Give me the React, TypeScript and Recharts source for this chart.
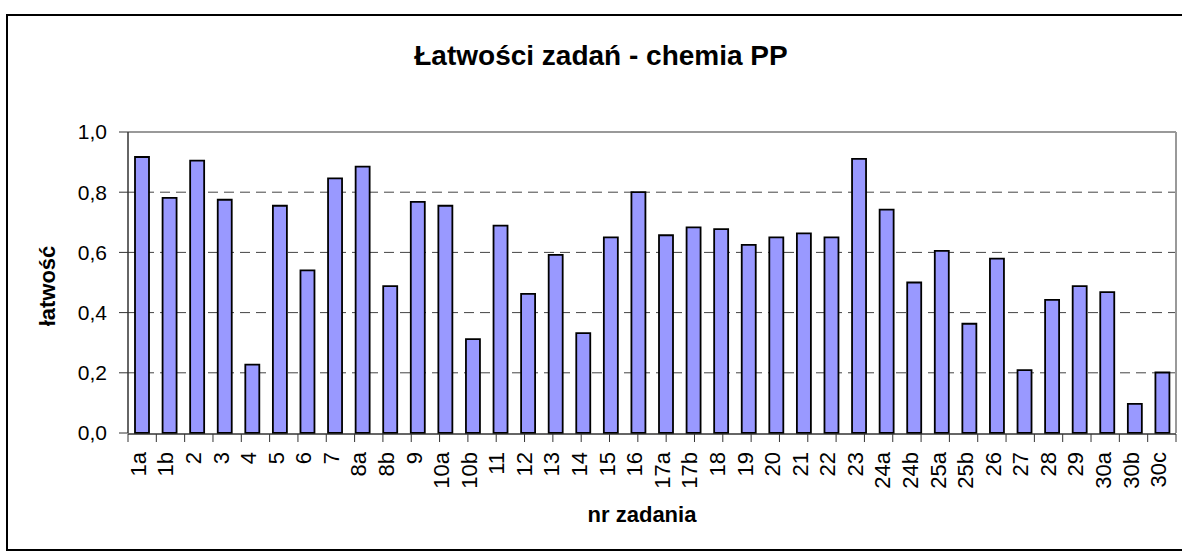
import React from "react";
import { BarChart, Bar, XAxis, YAxis, CartesianGrid, ReferenceLine } from "recharts";

const zadania = [
  "1a", "1b", "2", "3", "4", "5", "6", "7", "8a", "8b",
  "9", "10a", "10b", "11", "12", "13", "14", "15", "16", "17a",
  "17b", "18", "19", "20", "21", "22", "23", "24a", "24b", "25a",
  "25b", "26", "27", "28", "29", "30a", "30b", "30c",
];

const latwosc = [
  0.917, 0.781, 0.905, 0.775, 0.227, 0.755, 0.54, 0.846, 0.885, 0.488,
  0.768, 0.755, 0.312, 0.689, 0.462, 0.592, 0.332, 0.65, 0.8, 0.657,
  0.683, 0.677, 0.625, 0.65, 0.663, 0.65, 0.911, 0.742, 0.5, 0.605,
  0.363, 0.579, 0.209, 0.442, 0.488, 0.468, 0.097, 0.201,
];

const yTicks = [0, 0.2, 0.4, 0.6, 0.8, 1.0];

const data = zadania.map((z, i) => ({ zadanie: z, latwosc: latwosc[i] }));
// tick marks sit between categories, like in Excel
const edgeTicks = zadania.map((_, i) => i).concat(zadania.length);

const FONT = "'Liberation Sans', Arial, sans-serif";

const RotTick = (props: any) => {
  const { x, y, payload } = props;
  return (
    <text
      transform={`translate(${x + 4},${y + 19}) rotate(-90)`}
      textAnchor="end"
      fontSize={22}
      fontFamily={FONT}
      fill="#000"
    >
      {payload.value}
    </text>
  );
};

const NoLabel = () => <g />;

export default function App() {
  return (
    <div style={{ position: "absolute", left: 0, top: 0, width: 1182, height: 552, overflow: "hidden", background: "#fff", fontFamily: FONT }}>
      <div style={{ position: "absolute", left: 6, top: 14, width: 1230, height: 537, border: "2px solid #000", boxSizing: "border-box" }} />
      <div style={{ position: "absolute", left: 0, top: 42, width: 1202, textAlign: "center", fontSize: 28, lineHeight: "28px", fontWeight: "bold", color: "#000" }}>
        Łatwości zadań - chemia PP
      </div>
      <div
        style={{
          position: "absolute", left: 47.5, top: 286, transform: "translate(-50%, -50%) rotate(-90deg)",
          fontSize: 22, lineHeight: "22px", fontWeight: "bold", whiteSpace: "nowrap", color: "#000",
        }}
      >
        łatwość
      </div>
      <div style={{ position: "absolute", left: 442, top: 504, width: 400, textAlign: "center", fontSize: 22, lineHeight: "22px", fontWeight: "bold", color: "#000" }}>
        nr zadania
      </div>
      <div style={{ position: "absolute", left: 0, top: 0 }}>
        <BarChart width={1182} height={552} data={data} margin={{ top: 132, right: 5, bottom: 117, left: 68 }}>
          <CartesianGrid vertical={false} stroke="#444" strokeDasharray="10 6" horizontalValues={[0.2, 0.4, 0.6, 0.8]} />
          <XAxis
            xAxisId="edges"
            type="number"
            domain={[0, zadania.length]}
            ticks={edgeTicks}
            interval={0}
            tick={<NoLabel />}
            tickSize={8}
            tickLine={{ stroke: "#333" }}
            axisLine={{ stroke: "#333", strokeWidth: 1.5 }}
            height={1}
            allowDataOverflow
          />
          <XAxis
            dataKey="zadanie"
            interval={0}
            tick={<RotTick />}
            tickLine={false}
            axisLine={false}
            tickSize={0}
            tickMargin={0}
            height={1}
          />
          <YAxis
            domain={[0, 1]}
            ticks={yTicks}
            interval={0}
            width={60}
            tickSize={9}
            tickMargin={12}
            tickFormatter={(v: number) => v.toFixed(1).replace(".", ",")}
            tick={{ fontSize: 21, fill: "#000", fontFamily: FONT }}
            tickLine={{ stroke: "#333" }}
            axisLine={{ stroke: "#333", strokeWidth: 1.5 }}
          />
          <YAxis
            yAxisId="r"
            orientation="right"
            domain={[0, 1]}
            width={1}
            tick={false}
            tickLine={false}
            axisLine={{ stroke: "#999", strokeWidth: 2 }}
          />
          <ReferenceLine y={1} stroke="#999" strokeWidth={2} />
          <Bar dataKey="latwosc" fill="#9999FF" stroke="#000" strokeWidth={1.8} barSize={14} isAnimationActive={false} />
        </BarChart>
      </div>
    </div>
  );
}
